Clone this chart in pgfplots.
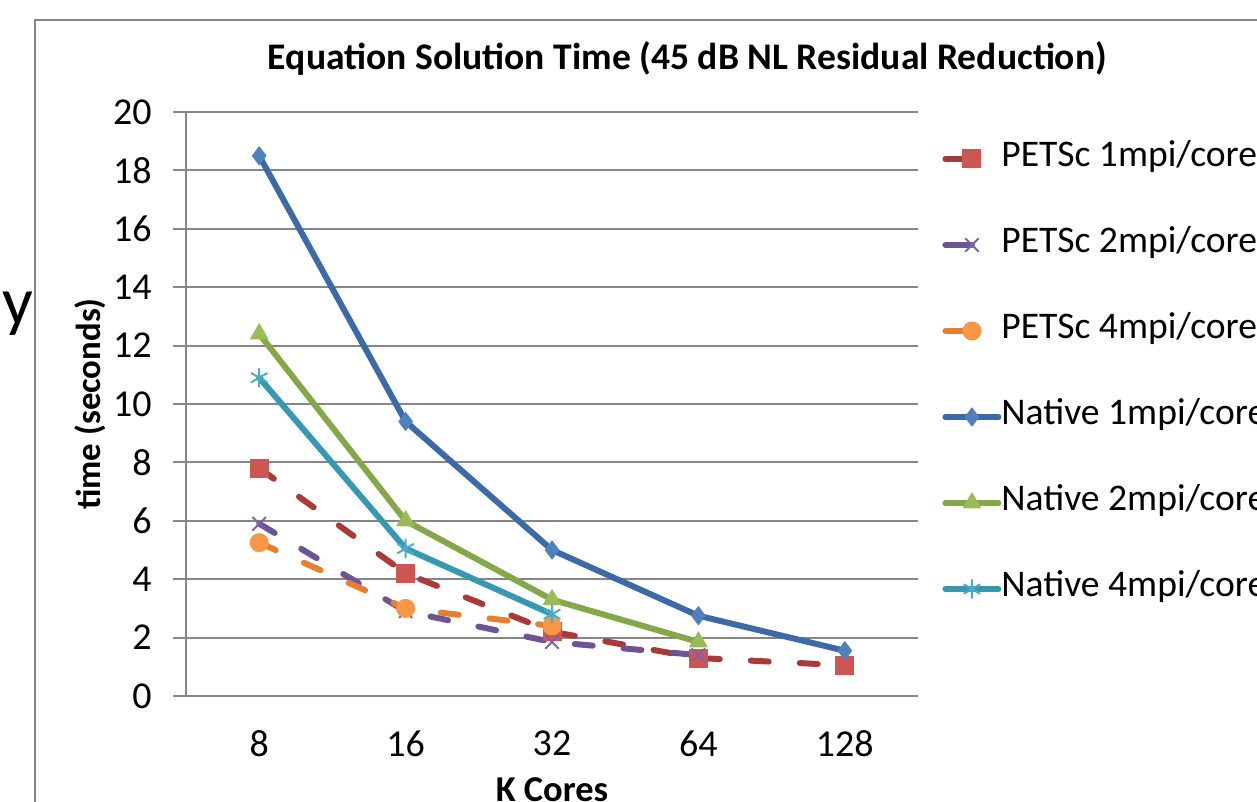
\documentclass[border=0pt]{standalone}
\usepackage{fontspec}
\setmainfont{Carlito}
\usepackage{pgfplots}
\pgfplotsset{compat=1.18}
\definecolor{gridgray}{RGB}{134,134,134}
\definecolor{blueL}{RGB}{60,106,166}
\definecolor{blueM}{RGB}{79,129,189}
\definecolor{redL}{RGB}{170,58,56}
\definecolor{redM}{RGB}{205,85,82}
\definecolor{greenL}{RGB}{132,168,72}
\definecolor{greenM}{RGB}{155,187,89}
\definecolor{purpleL}{RGB}{110,84,150}
\definecolor{purpleM}{RGB}{128,100,162}
\definecolor{cyanL}{RGB}{55,152,178}
\definecolor{cyanM}{RGB}{75,172,198}
\definecolor{orangeL}{RGB}{228,128,48}
\definecolor{orangeM}{RGB}{247,150,70}
\pgfplotsset{
  petscleg/.style={legend image code/.code={%
    \path (0pt,-4pt) (26.5pt,4pt);
    \draw[mark repeat=2,mark phase=2,##1,solid] plot coordinates {(0pt,0pt) (13.25pt,0pt)};}},
  nativeleg/.style={legend image code/.code={%
    \path (0pt,-4pt) (26.5pt,4pt);
    \draw[mark repeat=2,mark phase=2,##1] plot coordinates {(0pt,0pt) (13.25pt,0pt) (26.5pt,0pt)};}},
  petsc/.style={line width=3pt, line cap=round, dash pattern=on 9pt off 15.5pt, petscleg},
  native/.style={line width=3pt, line cap=round, line join=round, nativeleg},
}
\begin{document}
\begin{tikzpicture}
\useasboundingbox (0,0) rectangle (628.5pt,401pt);
\clip (0,0) rectangle (628.5pt,401pt);
\draw[gridgray, line width=1pt] (17.5pt,-5pt) -- (17.5pt,391pt) -- (640pt,391pt);
\node[font=\fontsize{34}{40}\selectfont, anchor=base west, inner sep=0pt] at (1pt,238.5pt) {y};
\begin{axis}[
  at={(93pt,53pt)}, anchor=south west,
  scale only axis, width=366pt, height=292pt,
  xmin=-0.5, xmax=4.5, ymin=0, ymax=20,
  xtick={0,1,2,3,4},
  xticklabels={\textrm{8},\textrm{16},\textrm{32},\textrm{64},\textrm{128}},
  ytick={0,2,...,20},
  axis lines*=left,
  axis line style={gridgray, line width=1pt},
  ymajorgrids, grid style={gridgray, line width=1pt},
  xtick style={draw=none},
  ytick style={gridgray, line width=1pt},
  tick align=outside, major tick length=6.5pt,
  /pgf/number format/assume math mode=true,
  tick label style={font=\fontsize{19}{23}\selectfont, inner sep=0pt},
  yticklabel style={anchor=east, xshift=-10.5pt},
  xticklabel style={anchor=north, yshift=-10.5pt},
  title={Equation Solution Time (45 dB NL Residual Reduction)},
  title style={at={(0.685,1.053)}, anchor=base, font=\bfseries\fontsize{18.8}{22}\selectfont, inner sep=0pt},
  xlabel={K Cores},
  xlabel style={at={(0.5,-0.1815)}, anchor=base, font=\bfseries\fontsize{18.2}{22}\selectfont, inner sep=0pt},
  ylabel={time (seconds)},
  ylabel style={at={(-0.131,0.5)}, anchor=center, font=\bfseries\fontsize{17.4}{21}\selectfont, inner sep=0pt},
  legend style={draw=none, fill=none, at={(1.0328,0.9476)}, anchor=north west,
    font=\fontsize{18.8}{22}\selectfont, inner sep=0pt, row sep=27pt,
    nodes={inner sep=0pt, text height=12pt, text depth=4pt},
    /tikz/every even column/.append style={column sep=1pt}},
  legend cell align=left,
]
\addplot[petsc, color=redL, mark=square*, mark size=4.5pt, mark options={solid, fill=redM, draw=redM, line width=0.5pt}]
  coordinates {(0,7.8) (1,4.2) (2,2.2) (3,1.3) (4,1.05)};
\addlegendentry{PETSc 1mpi/core}
\addplot[petsc, color=purpleL, mark=x, mark size=4.5pt, mark options={solid, draw=purpleM, line width=1pt}]
  coordinates {(0,5.9) (1,2.9) (2,1.85) (3,1.4)};
\addlegendentry{PETSc 2mpi/core}
\addplot[petsc, color=orangeL, mark=*, mark size=4.5pt, mark options={solid, fill=orangeM, draw=orangeM, line width=0.5pt}]
  coordinates {(0,5.25) (1,3.0) (2,2.4)};
\addlegendentry{PETSc 4mpi/core}
\addplot[native, color=blueL, mark=diamond*, mark size=4.5pt, mark options={fill=blueM, draw=blueM, line width=0.5pt}]
  coordinates {(0,18.5) (1,9.4) (2,5.0) (3,2.75) (4,1.55)};
\addlegendentry{Native 1mpi/core}
\addplot[native, color=greenL, mark=triangle*, mark size=5pt, mark options={fill=greenM, draw=greenM, line width=0.5pt}]
  coordinates {(0,12.4) (1,6.0) (2,3.3) (3,1.85)};
\addlegendentry{Native 2mpi/core}
\addplot[native, color=cyanL, mark=asterisk, mark size=4.5pt, mark options={draw=cyanM, line width=1pt}]
  coordinates {(0,10.9) (1,5.05) (2,2.8)};
\addlegendentry{Native 4mpi/core}
\end{axis}
\end{tikzpicture}
\end{document}
